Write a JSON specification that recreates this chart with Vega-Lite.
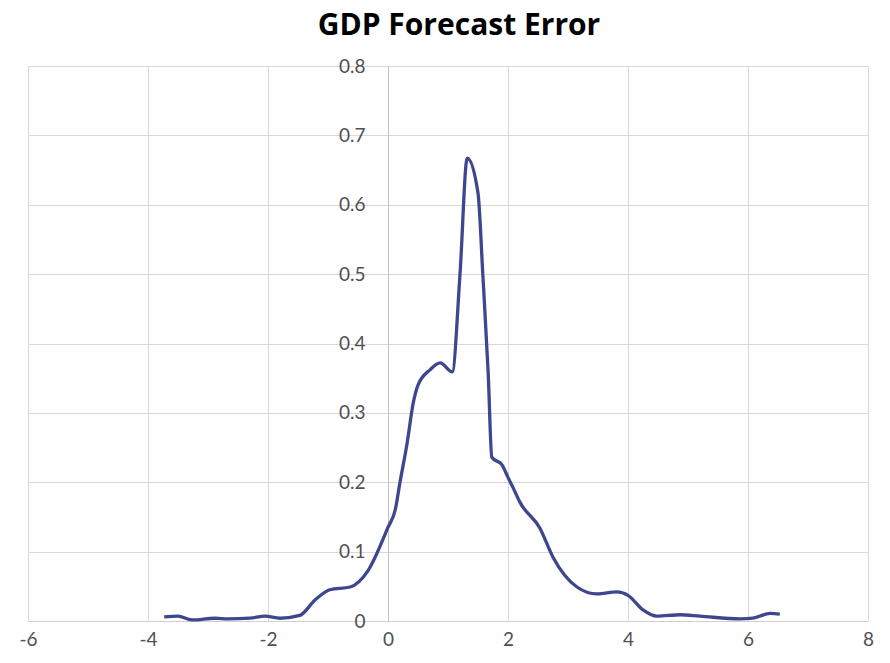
{
  "$schema": "https://vega.github.io/schema/vega-lite/v6.json",
  "autosize": "none",
  "width": 840,
  "height": 555,
  "padding": {"left": 28, "top": 66, "right": 22, "bottom": 42},
  "background": "white",
  "title": {"text": "GDP Forecast Error", "font": "Open Sans", "fontSize": 30, "fontWeight": "bold", "color": "#000000", "anchor": "middle", "offset": 16, "dx": 11},
  "config": {"view": {"stroke": null}},
  "data": {"values": [
    {"x": -3.73, "y": 0.006}, {"x": -3.5, "y": 0.007}, {"x": -3.27, "y": 0.0015}, {"x": -2.88, "y": 0.004},
    {"x": -2.67, "y": 0.003}, {"x": -2.3, "y": 0.004}, {"x": -2.05, "y": 0.007}, {"x": -1.8, "y": 0.004},
    {"x": -1.47, "y": 0.008}, {"x": -1.22, "y": 0.03}, {"x": -0.97, "y": 0.045}, {"x": -0.63, "y": 0.049},
    {"x": -0.33, "y": 0.073}, {"x": 0.0, "y": 0.135}, {"x": 0.12, "y": 0.16}, {"x": 0.2, "y": 0.2},
    {"x": 0.32, "y": 0.257}, {"x": 0.42, "y": 0.314}, {"x": 0.5, "y": 0.34}, {"x": 0.7, "y": 0.362},
    {"x": 0.87, "y": 0.372}, {"x": 1.07, "y": 0.359}, {"x": 1.2, "y": 0.5}, {"x": 1.32, "y": 0.667},
    {"x": 1.5, "y": 0.617}, {"x": 1.58, "y": 0.5}, {"x": 1.67, "y": 0.357}, {"x": 1.73, "y": 0.236},
    {"x": 1.9, "y": 0.225}, {"x": 2.0, "y": 0.207}, {"x": 2.08, "y": 0.193}, {"x": 2.2, "y": 0.171},
    {"x": 2.53, "y": 0.134}, {"x": 2.75, "y": 0.092}, {"x": 3.15, "y": 0.049}, {"x": 3.48, "y": 0.039},
    {"x": 3.82, "y": 0.042}, {"x": 4.0, "y": 0.037}, {"x": 4.25, "y": 0.016}, {"x": 4.48, "y": 0.007},
    {"x": 4.87, "y": 0.009}, {"x": 5.2, "y": 0.007}, {"x": 5.87, "y": 0.003}, {"x": 6.08, "y": 0.004},
    {"x": 6.37, "y": 0.011}, {"x": 6.53, "y": 0.01}
  ]},
  "mark": {"type": "line", "interpolate": "monotone", "color": "#3d468f", "strokeWidth": 3.3},
  "encoding": {
    "x": {"field": "x", "type": "quantitative", "title": null,
      "scale": {"domain": [-6, 8], "nice": false, "zero": false},
      "axis": {"values": [-6, -4, -2, 0, 2, 4, 6, 8], "labelExpr": "'' + datum.value", "ticks": false,
        "domainColor": "#d0d0d0", "gridColor": "#d9d9d9", "labelFont": "Lato", "labelFontSize": 19,
        "labelColor": "#505050", "labelPadding": 9, "labelFlush": false}},
    "y": {"field": "y", "type": "quantitative", "title": null,
      "scale": {"domain": [0, 0.8], "nice": false},
      "axis": {"values": [0, 0.1, 0.2, 0.3, 0.4, 0.5, 0.6, 0.7, 0.8], "format": ".1~f", "ticks": false, "offset": -360,
        "domainColor": "#bfbfbf", "gridColor": "#d9d9d9", "labelFont": "Lato", "labelFontSize": 19,
        "labelColor": "#505050", "labelPadding": 23, "labelFlush": false}}
  }
}
